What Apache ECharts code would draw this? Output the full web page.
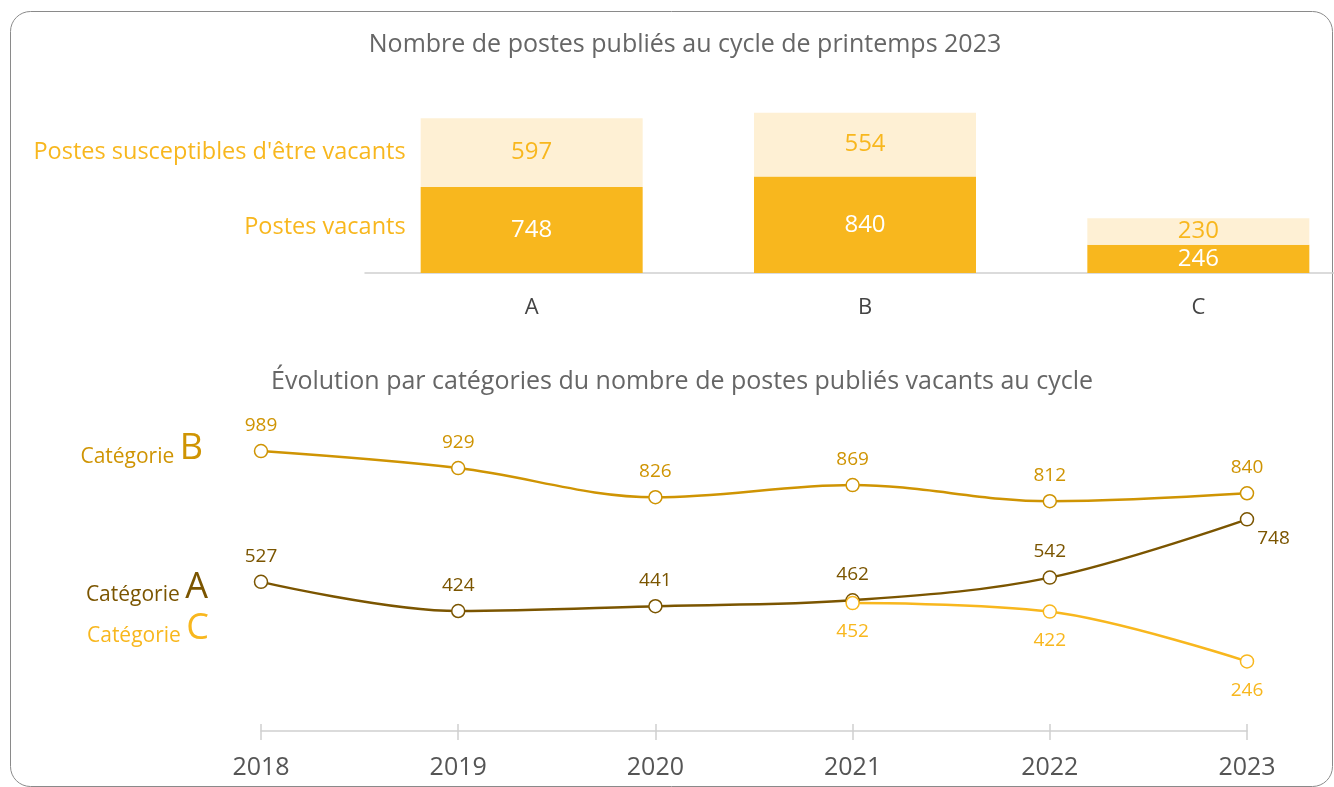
<!DOCTYPE html>
<html><head><meta charset="utf-8">
<script src="https://cdn.jsdelivr.net/npm/echarts@6/dist/echarts.min.js"></script>
<style>html,body{margin:0;padding:0;background:#fff}#c{width:1334px;height:787px}</style>
</head><body><div id="c"></div>
<script>
// ---- data ----
const barCategories = ['A', 'B', 'C'];
const postesVacants = [748, 840, 246];
const postesSusceptibles = [597, 554, 230];
const years = ['2018', '2019', '2020', '2021', '2022', '2023'];
const catB = [989, 929, 826, 869, 812, 840];
const catA = [527, 424, 441, 462, 542, 748];
const catC = [null, null, null, 452, 422, 246];

const FONT = 'Open Sans';
const cVac = '#F8B71E', cSus = '#FEF0D4';
const cB = '#CF9403', cA = '#7B5500', cC = '#F8B71E';

const chart = echarts.init(document.getElementById('c'));

function lineSeries(name, data, color, labelPos, dist, overrides) {
  return {
    name, type: 'line', xAxisIndex: 1, yAxisIndex: 1, data: data.map((v, i) => {
      if (overrides && overrides[i]) return { value: v, label: overrides[i] };
      return v;
    }),
    smooth: 0.35, connectNulls: false,
    symbol: 'circle', symbolSize: 13, showAllSymbol: true,
    lineStyle: { color, width: 2.5 },
    itemStyle: { color: '#fff', borderColor: color, borderWidth: 1.5 },
    label: { show: true, position: labelPos, distance: dist, color, fontFamily: FONT, fontSize: 19 },
    emphasis: { disabled: true }, z: 3
  };
}

chart.setOption({
  animation: false,
  textStyle: { fontFamily: FONT },
  title: [
    { text: 'Nombre de postes publiés au cycle de printemps 2023', left: 680, top: 27, textAlign: 'center',
      textStyle: { fontFamily: FONT, fontSize: 25, fontWeight: 'normal', color: '#666' } },
    { text: 'Évolution par catégories du nombre de postes publiés vacants au cycle', left: 677, top: 364, textAlign: 'center',
      textStyle: { fontFamily: FONT, fontSize: 25, fontWeight: 'normal', color: '#666' } }
  ],
  grid: [
    { left: 365, width: 1000, top: 112, height: 161, outerBoundsMode: 'none' },
    { left: 261, right: 87, top: 448, height: 283, outerBoundsMode: 'none' }
  ],
  xAxis: [
    { gridIndex: 0, type: 'category', data: barCategories,
      axisLine: { lineStyle: { color: '#d0d0d0', width: 1.5 } }, axisTick: { show: false },
      axisLabel: { color: '#444', fontSize: 22, fontFamily: FONT, margin: 24 } },
    { gridIndex: 1, type: 'category', data: years, boundaryGap: false, position: 'bottom',
      axisLine: { lineStyle: { color: '#cfcfcf', width: 1.5 } },
      axisTick: { show: true, length: 9, lineStyle: { color: '#cfcfcf', width: 1.5 } },
      axisLabel: { color: '#555', fontSize: 25, fontFamily: FONT, margin: 24 } },
    { gridIndex: 1, type: 'category', data: years, boundaryGap: false, position: 'bottom',
      axisLine: { show: false },
      axisTick: { show: true, inside: true, length: 7, lineStyle: { color: '#cfcfcf', width: 1.5 } },
      axisLabel: { show: false } }
  ],
  yAxis: [
    { gridIndex: 0, type: 'value', min: 0, max: 1400, show: false },
    { gridIndex: 1, type: 'value', min: 0, max: 1000, show: false }
  ],
  series: [
    { name: 'Postes vacants', type: 'bar', stack: 'p', xAxisIndex: 0, yAxisIndex: 0, data: postesVacants,
      barWidth: 222, itemStyle: { color: cVac },
      label: { show: true, position: 'inside', color: '#fff', fontSize: 24, fontFamily: FONT },
      emphasis: { disabled: true } },
    { name: "Postes susceptibles d'être vacants", type: 'bar', stack: 'p', xAxisIndex: 0, yAxisIndex: 0, data: postesSusceptibles,
      barWidth: 222, itemStyle: { color: cSus },
      label: { show: true, position: 'inside', color: cVac, fontSize: 24, fontFamily: FONT },
      emphasis: { disabled: true } },
    lineSeries('Catégorie B', catB, cB, 'top', 9),
    lineSeries('Catégorie A', catA, cA, 'top', 9, { 5: { position: 'right', offset: [-6, 19] } }),
    lineSeries('Catégorie C', catC, cC, 'bottom', 12)
  ]
});

// side labels positioned through the library's scales
const vacY = chart.convertToPixel({ gridIndex: 0 }, ['A', postesVacants[0] / 2]);
const susY = chart.convertToPixel({ gridIndex: 0 }, ['A', postesVacants[0] + postesSusceptibles[0] / 2]);
const barLeft = vacY[0] - 111;
const bPt = chart.convertToPixel({ xAxisIndex: 1, yAxisIndex: 1 }, ['2018', catB[0]]);
const aPt = chart.convertToPixel({ xAxisIndex: 1, yAxisIndex: 1 }, ['2018', catA[0]]);
const catRich = (col) => ({
  s: { fontFamily: FONT, fontSize: 21, fill: col, verticalAlign: 'bottom', lineHeight: 38 },
  L: { fontFamily: FONT, fontSize: 36, fill: col, verticalAlign: 'bottom', lineHeight: 38 }
});
chart.setOption({
  graphic: [
    { type: 'rect', shape: { x: 10.5, y: 11.5, width: 1322, height: 775, r: 20 }, silent: true,
      style: { fill: 'none', stroke: '#8a8a8a', lineWidth: 1 }, z: -10 },
    { type: 'text', x: barLeft - 15, y: susY[1], style: { text: "Postes susceptibles d'être vacants", fill: cVac,
      font: '23.5px ' + FONT, align: 'right', verticalAlign: 'middle' } },
    { type: 'text', x: barLeft - 15, y: vacY[1] - 3, style: { text: 'Postes vacants', fill: cVac,
      font: '23.5px ' + FONT, align: 'right', verticalAlign: 'middle' } },
    { type: 'text', x: 203, y: bPt[1] - 3, style: { text: '{s|Catégorie }{L|B}', rich: catRich(cB), align: 'right', verticalAlign: 'middle' } },
    { type: 'text', x: 208, y: aPt[1] + 5, style: { text: '{s|Catégorie }{L|A}', rich: catRich(cA), align: 'right', verticalAlign: 'middle' } },
    { type: 'text', x: 209, y: aPt[1] + 46, style: { text: '{s|Catégorie }{L|C}', rich: catRich(cC), align: 'right', verticalAlign: 'middle' } }
  ]
});
</script></body></html>
